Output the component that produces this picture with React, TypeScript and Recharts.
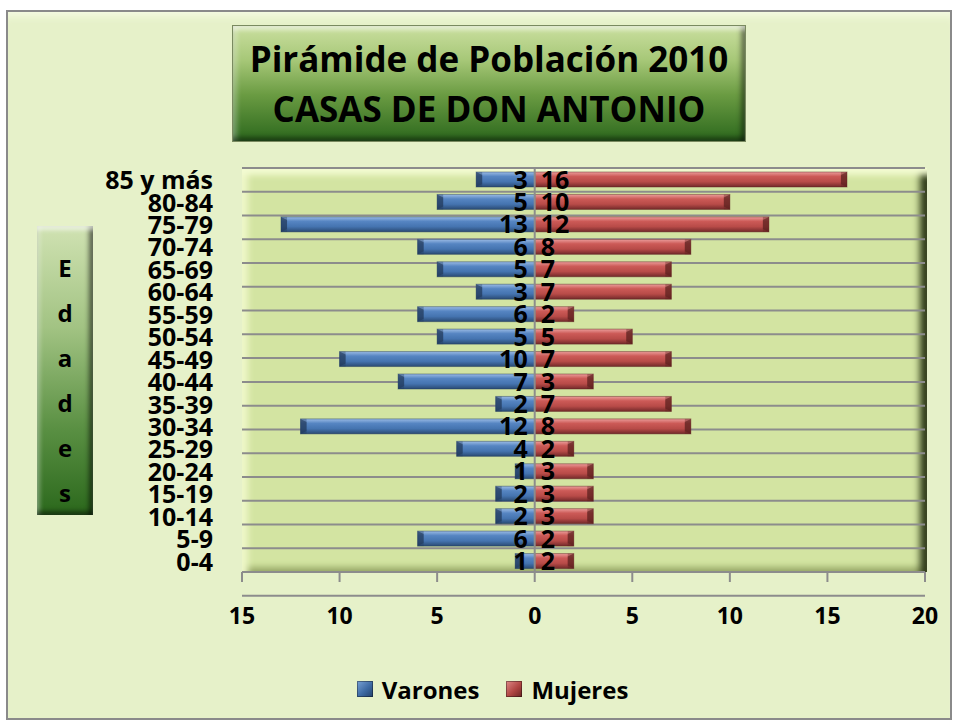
import React from 'react';
import {
  BarChart, Bar, XAxis, YAxis, CartesianGrid, ReferenceLine, LabelList, Legend,
} from 'recharts';

const ages = ['85 y más', '80-84', '75-79', '70-74', '65-69', '60-64', '55-59', '50-54', '45-49', '40-44', '35-39', '30-34', '25-29', '20-24', '15-19', '10-14', '5-9', '0-4'];
const varones = [3, 5, 13, 6, 5, 3, 6, 5, 10, 7, 2, 12, 4, 1, 2, 2, 6, 1];
const mujeres = [16, 10, 12, 8, 7, 7, 2, 5, 7, 3, 7, 8, 2, 3, 3, 3, 2, 2];
const xTicks = [-15, -10, -5, 0, 5, 10, 15, 20];
const gridTicks = [0, 1, 2, 3, 4, 5, 6, 7, 8, 9, 10, 11, 12, 13, 14, 15, 16, 17, 18];
const seriesNames = ['Varones', 'Mujeres'];
const titleLines = ['Pirámide de Población 2010', 'CASAS DE DON ANTONIO'];
const axisTitle = 'Edades';

const data = ages.map((age, i) => ({ age, varones: -varones[i], mujeres: mujeres[i] }));

const FONT = '"Open Sans", "Liberation Sans", sans-serif';

const BarShape = (props: any) => {
  const { x, y, width, height, fill, dataKey } = props;
  const x0 = Math.min(x, x + width);
  const w = Math.abs(width);
  if (!w) return null;
  const cap = Math.min(6, w);
  const isLeft = dataKey === 'varones';
  const dark = isLeft ? '#22395a' : '#5a1f1e';
  const capX = isLeft ? x0 : x0 + w - cap;
  const capPts = isLeft
    ? `${x0},${y} ${x0 + cap},${y + 3} ${x0 + cap},${y + height - 3} ${x0},${y + height}`
    : `${x0 + w},${y} ${x0 + w - cap},${y + 3} ${x0 + w - cap},${y + height - 3} ${x0 + w},${y + height}`;
  return (
    <g>
      <rect x={x0} y={y} width={w} height={height} fill={fill} />
      <rect x={capX} y={y} width={cap} height={height} fill={dark} opacity={0.35} />
      <polygon points={capPts} fill={dark} opacity={0.6} />
      <rect x={x0} y={y} width={w} height={height} fill="none" stroke={dark} strokeOpacity={0.45} strokeWidth={1} />
    </g>
  );
};

const makeLabel = (side: 'left' | 'right') => (props: any) => {
  const { x, y, width, height, value } = props;
  const a = x;
  const b = x + width;
  const zero = side === 'left' ? Math.max(a, b) : Math.min(a, b);
  const tx = side === 'left' ? zero - 7 : zero + 6;
  return (
    <text
      x={tx}
      y={y + height / 2 + 9}
      textAnchor={side === 'left' ? 'end' : 'start'}
      fontFamily={FONT}
      fontWeight={700}
      fontSize={25}
      fill="#000"
    >
      {Math.abs(value)}
    </text>
  );
};

const LegendContent = (props: any) => {
  const payload = [...(props.payload || [])].sort(
    (a: any, b: any) => seriesNames.indexOf(a.value) - seriesNames.indexOf(b.value),
  );
  return (
    <div style={{ display: 'flex', justifyContent: 'center', alignItems: 'center', height: 80, paddingTop: 14, paddingLeft: 60, boxSizing: 'border-box' }}>
      {payload.map((p: any, i: number) => (
        <div key={p.value} style={{ display: 'flex', alignItems: 'center', marginLeft: i ? 27 : 0 }}>
          <div
            style={{
              width: 16,
              height: 16,
              background: p.value === seriesNames[0]
                ? 'linear-gradient(135deg,#7aa3d6,#3d6aa3 55%,#23416a)'
                : 'linear-gradient(135deg,#e08a88,#b04643 55%,#6a2423)',
              boxShadow: 'inset 0 0 0 1px rgba(0,0,0,0.35)',
              marginRight: 9,
            }}
          />
          <span style={{ fontFamily: FONT, fontWeight: 700, fontSize: 24, color: '#000' }}>{p.value}</span>
        </div>
      ))}
    </div>
  );
};

export default function App() {
  return (
    <div style={{ position: 'absolute', left: 0, top: 0, width: 956, height: 722, background: '#fff' }}>
      <div
        style={{
          position: 'absolute', left: 6, top: 10, width: 942, height: 706,
          background: '#e6f1c9', border: '2px solid #8a8a8a',
          boxShadow: 'inset 0 10px 8px -6px #f6fbe3',
        }}
      />
      <div
        style={{
          position: 'absolute', left: 233, top: 26, width: 512, height: 115,
          background: 'linear-gradient(180deg,#cadf9f 0%,#a6c777 30%,#6a9b42 60%,#2c681d 100%)',
          boxShadow: 'inset 0 6px 4px -2px rgba(255,255,255,0.55), inset -6px 0 5px -2px rgba(0,0,0,0.45), inset 0 -6px 5px -2px rgba(0,0,0,0.4), inset 6px 0 5px -2px rgba(255,255,255,0.3), 0 0 0 1px #7a8a60',
          display: 'flex', flexDirection: 'column', alignItems: 'center', justifyContent: 'center',
          fontFamily: FONT, fontWeight: 700, fontSize: 35, color: '#000', lineHeight: '50px',
        }}
      >
        {titleLines.map((t, i) => (<div key={i}>{t}</div>))}
      </div>
      <div
        style={{
          position: 'absolute', left: 37, top: 226, width: 56, height: 289,
          background: 'linear-gradient(180deg,#d0e2b2 0%,#a2c383 35%,#5a9043 70%,#2b681c 100%)',
          boxShadow: 'inset 0 6px 4px -2px rgba(255,255,255,0.6), inset -6px 0 5px -2px rgba(0,0,0,0.55), inset 0 -6px 5px -2px rgba(0,0,0,0.45), inset 5px 0 4px -2px rgba(255,255,255,0.35)',
          display: 'flex', flexDirection: 'column', alignItems: 'center', paddingTop: 19, boxSizing: 'border-box',
          fontFamily: FONT, fontWeight: 700, fontSize: 24, color: '#000', lineHeight: '45px',
        }}
      >
        {axisTitle.split('').map((c, i) => (<div key={i}>{c}</div>))}
      </div>
      <div
        style={{
          position: 'absolute', left: 242, top: 168, width: 685, height: 404,
          background: '#d3e4a2',
          boxShadow: 'inset 0 12px 6px -5px #f3fbd2, inset 12px 0 6px -6px #eef7c8, inset -13px 0 7px -6px #2e3a18, inset 0 -10px 6px -5px #9aab6a',
        }}
      />
      <div style={{ position: 'absolute', left: 0, top: 0 }}>
        <BarChart
          width={956}
          height={722}
          data={data}
          layout="vertical"
          stackOffset="sign"
          margin={{ top: 168, right: 31, bottom: 0, left: 0 }}
        >
          <defs>
            <linearGradient id="gBlue" x1="0" y1="0" x2="0" y2="1">
              <stop offset="0" stopColor="#9bbbe5" />
              <stop offset="0.3" stopColor="#5685c2" />
              <stop offset="0.65" stopColor="#4574b0" />
              <stop offset="1" stopColor="#2a4a73" />
            </linearGradient>
            <linearGradient id="gRed" x1="0" y1="0" x2="0" y2="1">
              <stop offset="0" stopColor="#eb9d9b" />
              <stop offset="0.3" stopColor="#cc5a57" />
              <stop offset="0.65" stopColor="#b84b48" />
              <stop offset="1" stopColor="#72292a" />
            </linearGradient>
          </defs>
          <CartesianGrid yAxisId="grid" vertical={false} stroke="#8c8c8c" strokeWidth={2} />
          <XAxis
            type="number"
            domain={[-15, 20]}
            ticks={xTicks}
            interval={0}
            allowDataOverflow
            tickFormatter={(v: number) => String(Math.abs(v))}
            stroke="#8c8c8c"
            strokeWidth={2}
            tickSize={10}
            tickMargin={26}
            height={70}
            tick={{ fill: '#000', fontFamily: FONT, fontWeight: 700, fontSize: 23 }}
          />
          <YAxis
            yAxisId="cat"
            type="category"
            dataKey="age"
            width={242}
            interval={0}
            axisLine={false}
            tickLine={false}
            tickSize={0}
            tickMargin={29}
            tick={{ fill: '#000', fontFamily: FONT, fontWeight: 700, fontSize: 25, dy: 1 }}
          />
          <YAxis yAxisId="grid" type="number" domain={[0, 18]} ticks={gridTicks} hide />
          <Legend verticalAlign="bottom" height={80} content={<LegendContent />} />
          <Bar yAxisId="cat" dataKey="varones" name={seriesNames[0]} stackId="s" fill="url(#gBlue)" barSize={15} shape={<BarShape dataKey="varones" />} isAnimationActive={false}>
            <LabelList dataKey="varones" content={makeLabel('left')} />
          </Bar>
          <Bar yAxisId="cat" dataKey="mujeres" name={seriesNames[1]} stackId="s" fill="url(#gRed)" barSize={15} shape={<BarShape dataKey="mujeres" />} isAnimationActive={false}>
            <LabelList dataKey="mujeres" content={makeLabel('right')} />
          </Bar>
          <ReferenceLine yAxisId="cat" x={0} stroke="#8c8c8c" strokeWidth={2} />
        </BarChart>
      </div>
    </div>
  );
}
